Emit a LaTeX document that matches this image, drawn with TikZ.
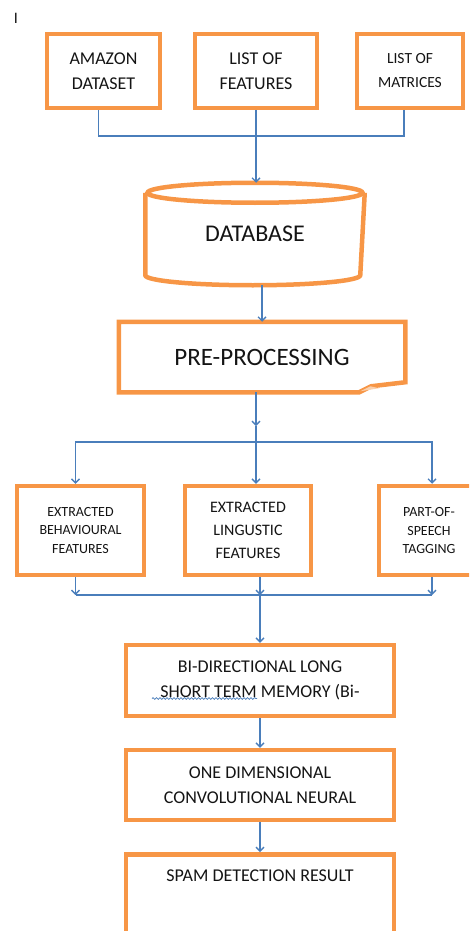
\documentclass[tikz,border=0pt]{standalone}
\usepackage{fontspec}
\setmainfont{Carlito}
\usepackage{xcolor}
\usetikzlibrary{arrows.meta, decorations.pathmorphing}

\definecolor{boxorange}{RGB}{247,150,70}
\definecolor{wireblue}{RGB}{74,126,187}
\definecolor{inkgray}{RGB}{20,20,20}

\begin{document}
\begin{tikzpicture}[x=1pt, y=-1pt, >={Straight Barb[length=4pt,width=8pt]},
    outline/.style={draw=boxorange, line width=4.5pt},
    box/.style={outline, rectangle, inner sep=0pt, align=center, text=inkgray},
    wire/.style={draw=wireblue, line width=1.3pt},
    big/.style={font=\fontsize{18}{25}\selectfont},
    small/.style={font=\fontsize{14}{18.5}\selectfont}]
    \clip (0,0) rectangle (469,931);

    % Sources
    \node[text=inkgray, font=\fontsize{16}{16}\selectfont] (cursor) at (16,18) {I};
    \node[box, big, minimum width=113pt, minimum height=74pt] (amazon) at (103.5,71) {AMAZON\\DATASET};
    \node[box, big, minimum width=122pt, minimum height=74pt] (features) at (256,71) {LIST OF\\FEATURES};
    \node[box, font=\fontsize{15.5}{24}\selectfont, minimum width=106pt, minimum height=74pt] (matrices) at (410,71) {LIST OF\\MATRICES};

    % Database
    \node[font=\fontsize{24}{24}\selectfont, text=inkgray, minimum width=215pt, minimum height=98pt, inner sep=0pt, outer sep=2.25pt] (database) at (255,234) {DATABASE};
    \draw[outline] ([yshift=-10pt]database.north west) -- ([yshift=10pt]database.south west)
        arc[start angle=180, end angle=360, x radius=107.5pt, y radius=10pt] -- ([yshift=-10pt]database.north east);
    \draw[outline] ([yshift=-10pt]database.north) ellipse[x radius=107.5pt, y radius=10pt];

    \coordinate (gather) at (256,136);
    \coordinate (amazonout) at ([xshift=-5pt]amazon.south);
    \coordinate (matricesout) at ([xshift=-6pt]matrices.south);
    \draw[wire] (amazonout) |- (gather) -| (matricesout);
    \draw[wire,->] (features.south) -- (features.south |- database.north);

    % Pre-processing
    \node[font=\fontsize{25}{25}\selectfont, text=inkgray, minimum width=282pt, minimum height=66pt, inner sep=0pt, outer sep=2.25pt] (preproc) at (262,357) {PRE-PROCESSING};
    \draw[outline] (preproc.north west) -- (preproc.north east) -- ([yshift=10pt]preproc.south east)
        -- ++(-34,4) -- ++(-12,6) -- (preproc.south west) -- cycle;
    \fill[boxorange!45] ([xshift=-35pt,yshift=6pt]preproc.south east) -- ++(-10,5) -- ++(19,-3) -- cycle;
    \draw[wire,->] (database.south -| preproc.north) -- (preproc.north);

    % Feature extraction
    \node[box, small, minimum width=127pt, minimum height=89pt] (behav) at (80.5,530.5) {EXTRACTED\\BEHAVIOURAL\\FEATURES};
    \node[box, font=\fontsize{16}{23}\selectfont, minimum width=126pt, minimum height=89pt] (ling) at (248,530.5) {EXTRACTED\\LINGUSTIC\\FEATURES};
    \node[box, small, minimum width=100pt, minimum height=89pt] (pos) at (429,530.5) {PART-OF-\\SPEECH\\TAGGING};

    \coordinate (split) at (256,426);
    \coordinate (fork) at (256,442);
    \coordinate (behavin) at ([xshift=-5pt]behav.north);
    \coordinate (lingin) at ([xshift=8pt]ling.north);
    \coordinate (posin) at ([xshift=3pt]pos.north);
    \draw[wire,->] (preproc.south -| split) -- (split);
    \draw[wire] (split) -- (fork);
    \draw[wire,->] (fork) -| (behavin);
    \draw[wire,->] (fork) -| (posin);
    \draw[wire,->] (fork) -- (lingin);

    \coordinate (merge) at (260,595);
    \coordinate (behavout) at ([xshift=-5pt]behav.south);
    \coordinate (lingout) at ([xshift=12pt]ling.south);
    \coordinate (posout) at ([xshift=3pt]pos.south);
    \draw[wire] (behavout |- merge) -- (posout |- merge);
    \draw[wire,->] (behavout) -- (behavout |- merge);
    \draw[wire,->] (lingout) -- (lingout |- merge);
    \draw[wire,->] (posout) -- (posout |- merge);

    % Model and result
    \node[box, big, minimum width=268pt, minimum height=71pt] (bilstm) at (260,680.5) {BI-DIRECTIONAL LONG\\SHORT TERM MEMORY (Bi-};
    \draw[wireblue, line width=0.7pt, decorate, decoration={snake, segment length=3.5pt, amplitude=0.9pt}]
        ([xshift=-108pt,yshift=-18pt]bilstm.center) -- ([xshift=-3pt,yshift=-18pt]bilstm.center);
    \node[box, big, minimum width=268pt, minimum height=70pt] (cnn) at (260,785) {ONE DIMENSIONAL\\CONVOLUTIONAL NEURAL};
    \node[box, big, minimum width=268pt, anchor=north, text height=27pt, text depth=90pt] (result) at (260,852) {SPAM DETECTION RESULT};

    \draw[wire,->] (merge) -- (bilstm);
    \draw[wire,->] (bilstm) -- (cnn);
    \draw[wire,->] (cnn) -- (result);
\end{tikzpicture}
\end{document}
